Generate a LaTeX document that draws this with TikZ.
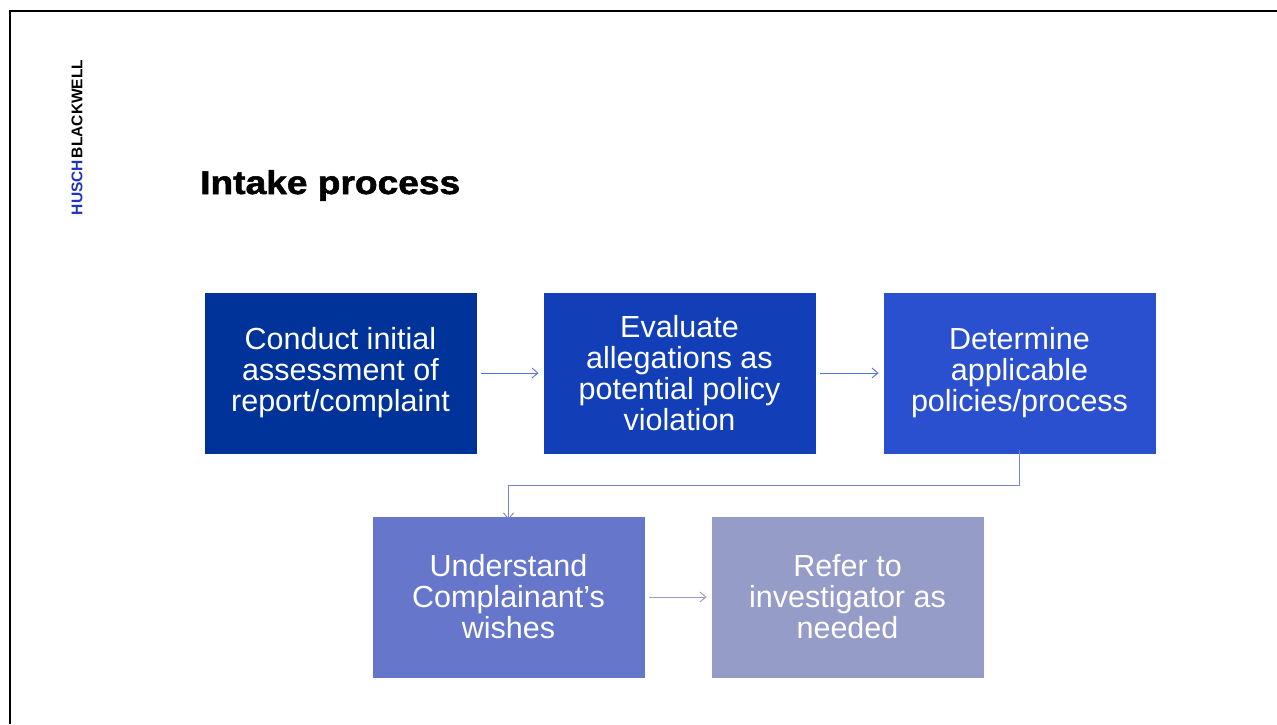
\documentclass[tikz,border=0pt]{standalone}
\usepackage{fontspec}
\setmainfont{Liberation Sans}
\newfontfamily\heavyfont{Liberation Sans Bold}[FakeBold=1.6]
\usetikzlibrary{arrows.meta}
\definecolor{cA}{HTML}{00339A}
\definecolor{cB}{HTML}{123FB8}
\definecolor{cC}{HTML}{2B50CF}
\definecolor{cD}{HTML}{6677CB}
\definecolor{cE}{HTML}{959CC7}
\definecolor{logoblue}{HTML}{2233BB}
\tikzset{
  stepbox/.style={minimum width=273pt, minimum height=162pt, inner sep=0pt, draw=white, line width=0.8pt,
    text=white, align=center, font=\fontsize{30.5}{31}\selectfont},
  conn/.style={line width=1pt, -{Straight Barb[length=6pt,width=10pt,line width=0.9pt]}}
}
\begin{document}
\begin{tikzpicture}[x=1pt,y=-1pt]
\useasboundingbox (0,0) rectangle (1277,724);
\fill[white] (0,0) rectangle (1277,724);
\draw[line width=2.6pt] (10,724) -- (10,11) -- (1277,11);
\node[rotate=90, anchor=center, font=\bfseries\fontsize{15.5}{16}\selectfont, inner sep=0pt] (logo) at (77,137.5) {\textcolor{logoblue}{HUSCH}\kern2pt BLACKWELL};
\node[anchor=base west, font=\heavyfont\fontsize{33}{36}\selectfont, inner sep=0pt, xscale=1.125] (title) at (200,194) {Intake process};
\node[stepbox, fill=cA] (b1) at (340.5,373) {Conduct initial\\assessment of\\report/complaint};
\node[stepbox, fill=cB] (b2) at (679.5,373) {Evaluate\\allegations as\\potential policy\\violation};
\node[stepbox, fill=cC] (b3) at (1019.5,373) {Determine\\applicable\\policies/process};
\node[stepbox, fill=cD] (b4) at (508.5,597) {Understand\\Complainant’s\\wishes};
\node[stepbox, fill=cE] (b5) at (847.5,597) {Refer to\\investigator as\\needed};
\draw[conn, draw=cC!80] ([xshift=4pt]b1.east) -- ([xshift=-4pt]b2.west);
\draw[conn, draw=cC!80] ([xshift=4pt]b2.east) -- ([xshift=-4pt]b3.west);
\coordinate (m) at (1019.5,485);
\draw[conn, draw=cD!90] ([yshift=4pt]b3.south) -- (m) -| ([yshift=-4pt]b4.north);
\draw[conn, draw=cE] ([xshift=4pt]b4.east) -- ([xshift=-4pt]b5.west);
\end{tikzpicture}
\end{document}
